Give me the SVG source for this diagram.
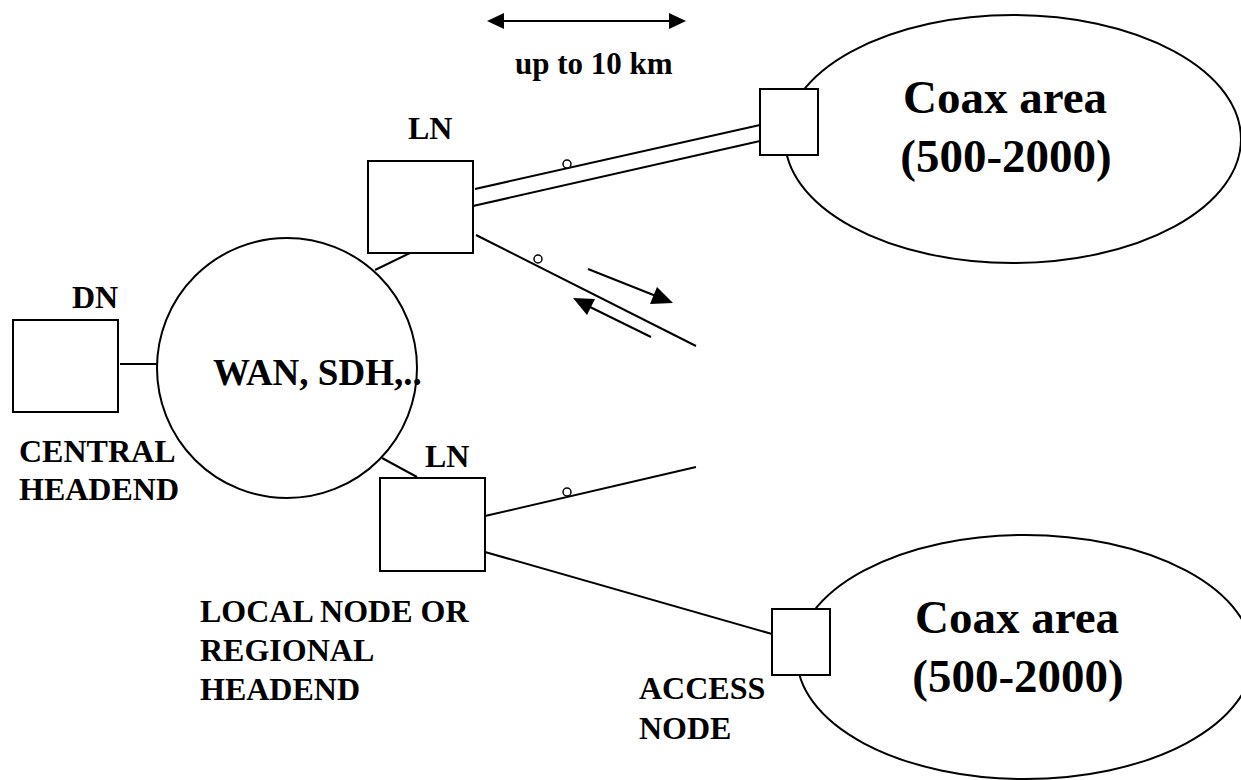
<svg xmlns="http://www.w3.org/2000/svg" width="1241" height="780" viewBox="0 0 1241 780">
<style>
.s{fill:#fff;stroke:#000;stroke-width:2}
.l{fill:none;stroke:#000;stroke-width:2}
.t{font-family:"Liberation Serif","Times New Roman",serif;font-weight:bold;font-size:32px;fill:#000}
.big{font-size:47px}
.mid{font-size:37px}
.sm{font-size:31px}
.dot{fill:#fff;stroke:#000;stroke-width:1.5}
</style>
<rect width="1241" height="780" fill="#fff"/>
<g id="coax-top">
<ellipse class="s" cx="1013" cy="139" rx="228" ry="124"/>
<text class="t big" x="1005" y="113" text-anchor="middle">Coax area</text>
<text class="t big" x="1006" y="172" text-anchor="middle">(500-2000)</text>
</g>
<g id="coax-bottom">
<ellipse class="s" cx="1025" cy="657" rx="228" ry="122"/>
<text class="t big" x="1017" y="633" text-anchor="middle">Coax area</text>
<text class="t big" x="1018" y="692" text-anchor="middle">(500-2000)</text>
</g>
<g id="connectors">
<line class="l" x1="120" y1="364" x2="157" y2="364"/>
<line class="l" x1="375" y1="270" x2="410" y2="253"/>
<line class="l" x1="382" y1="458" x2="417" y2="477"/>
<line class="l" x1="475" y1="189" x2="760" y2="125"/>
<line class="l" x1="473" y1="206" x2="760" y2="141"/>
<line class="l" x1="476" y1="235" x2="696" y2="346"/>
<line class="l" x1="485" y1="516" x2="696" y2="467"/>
<line class="l" x1="485" y1="552" x2="772" y2="634"/>
<circle class="dot" cx="567" cy="164" r="4"/>
<circle class="dot" cx="538" cy="259" r="4"/>
<circle class="dot" cx="567" cy="492" r="4"/>
<line class="l" x1="588" y1="269" x2="656" y2="296"/>
<path d="M673,303 L650,304 L657,287 z" fill="#000"/>
<line class="l" x1="651" y1="337" x2="588" y2="306"/>
<path d="M573,298 L595,299 L587,315 z" fill="#000"/>
<line class="l" x1="500" y1="21" x2="672" y2="21"/>
<path d="M487,21 L504,13 L504,29 z" fill="#000"/>
<path d="M686,21 L669,13 L669,29 z" fill="#000"/>
</g>
<g id="access-top"><rect class="s" x="760" y="89" width="58" height="66"/></g>
<g id="access-bottom"><rect class="s" x="772" y="609" width="58" height="66"/></g>
<g id="wan">
<circle class="s" cx="287" cy="368" r="130"/>
<text class="t mid" x="213" y="385">WAN, SDH,..</text>
</g>
<g id="dn">
<rect class="s" x="13" y="320" width="105" height="92"/>
<text class="t" x="72" y="308">DN</text>
<text class="t" x="19" y="462">CENTRAL</text>
<text class="t" x="19" y="500">HEADEND</text>
</g>
<g id="ln-top">
<rect class="s" x="368" y="161" width="105" height="92"/>
<text class="t" x="408" y="139">LN</text>
</g>
<g id="ln-bottom">
<rect class="s" x="380" y="478" width="105" height="93"/>
<text class="t" x="425" y="467">LN</text>
<text class="t" x="200" y="622">LOCAL NODE OR</text>
<text class="t" x="200" y="661">REGIONAL</text>
<text class="t" x="200" y="700">HEADEND</text>
</g>
<g id="access-label">
<text class="t" x="639" y="699">ACCESS</text>
<text class="t" x="639" y="739">NODE</text>
</g>
<g id="distance">
<text class="t sm" x="515" y="74">up to 10 km</text>
</g>
</svg>
